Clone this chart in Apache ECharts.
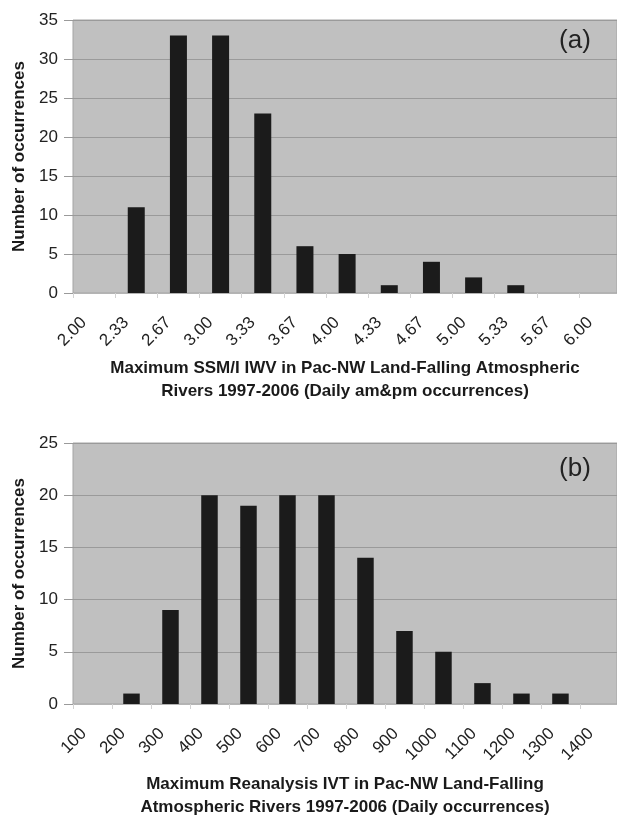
<!DOCTYPE html>
<html><head><meta charset="utf-8">
<script src="https://cdn.jsdelivr.net/npm/echarts@6/dist/echarts.min.js"></script>
<style>html,body{margin:0;padding:0;background:#fff}#c{width:617px;height:820px}</style>
</head><body><div id="c"></div>
<script>
// Panel (a): SSM/I IWV histogram
const ticksA = ['2.00','2.33','2.67','3.00','3.33','3.67','4.00','4.33','4.67','5.00','5.33','5.67','6.00'];
const countsA = [0, 11, 33, 33, 23, 6, 5, 1, 4, 2, 1, 0];
const yMaxA = 35;
const titleA = 'Maximum SSM/I IWV in Pac-NW Land-Falling Atmospheric\nRivers 1997-2006 (Daily am&pm occurrences)';

// Panel (b): Reanalysis IVT histogram
const ticksB = ['100','200','300','400','500','600','700','800','900','1000','1100','1200','1300','1400'];
const countsB = [0, 1, 9, 20, 19, 20, 20, 14, 7, 5, 2, 1, 1];
const yMaxB = 25;
const titleB = 'Maximum Reanalysis IVT in Pac-NW Land-Falling\nAtmospheric Rivers 1997-2006 (Daily occurrences)';

const yTitle = 'Number of occurrences';
const FONT = 'Liberation Sans, Arial, Helvetica, sans-serif';

function xAxisFor(gridIndex, ticks, max, shift, title, gap) {
  return {
    gridIndex, type: 'value', min: 0, max,
    axisLine: {show: true, lineStyle: {color: '#b4b4b4', width: 1}},
    axisTick: {show: true, customValues: ticks.map((_, i) => i), length: 5, inside: false,
               lineStyle: {color: '#d2d2d2'}},
    axisLabel: {customValues: ticks.map((_, i) => i + shift), rotate: 45, margin: 27,
                formatter: v => ticks[Math.round(v - shift)], fontSize: 17, color: '#222', fontFamily: FONT},
    splitLine: {show: false},
    name: title, nameLocation: 'middle', nameGap: gap,
    nameTextStyle: {fontWeight: 'bold', fontSize: 17, lineHeight: 23, color: '#1a1a1a', fontFamily: FONT}
  };
}
function yAxisFor(gridIndex, ymax) {
  return {
    gridIndex, type: 'value', min: 0, max: ymax, interval: 5,
    axisLine: {show: false},
    axisTick: {show: true, length: 9, lineStyle: {color: '#9a9a9a'}},
    axisLabel: {fontSize: 17, color: '#222', margin: 15, fontFamily: FONT},
    splitLine: {show: true, lineStyle: {color: '#9a9a9a', width: 1}},
    name: yTitle, nameLocation: 'middle', nameGap: 44,
    nameTextStyle: {fontWeight: 'bold', fontSize: 17, color: '#1a1a1a', fontFamily: FONT}
  };
}

const chart = echarts.init(document.getElementById('c'), null, {renderer: 'canvas'});
chart.setOption({
  animation: false,
  backgroundColor: '#ffffff',
  grid: [
    {left: 73, top: 20, width: 544, height: 273, show: true, backgroundColor: '#c0c0c0', borderColor: '#a4a4a4', borderWidth: 1},
    {left: 73, top: 443, width: 544, height: 266, show: true, backgroundColor: '#c0c0c0', borderColor: '#a4a4a4', borderWidth: 1}
  ],
  xAxis: [
    xAxisFor(0, ticksA, 12.9, 0.26, titleA, 64),
    xAxisFor(1, ticksB, 13.95, 0.28, titleB, 69)
  ],
  yAxis: [yAxisFor(0, yMaxA), yAxisFor(1, yMaxB)],
  series: [
    {type: 'bar', xAxisIndex: 0, yAxisIndex: 0, barWidth: 17,
     itemStyle: {color: '#1b1b1b'}, data: countsA.map((v, i) => [i + 0.5, v])},
    {type: 'bar', xAxisIndex: 1, yAxisIndex: 1, barWidth: 16.5,
     itemStyle: {color: '#1b1b1b'}, data: countsB.map((v, i) => [i + 0.5, v])}
  ],
  graphic: [
    {type: 'text', x: 575, y: 41, style: {text: '(a)', font: '26px ' + FONT, fill: '#222', textAlign: 'center', textVerticalAlign: 'middle'}},
    {type: 'text', x: 575, y: 469, style: {text: '(b)', font: '26px ' + FONT, fill: '#222', textAlign: 'center', textVerticalAlign: 'middle'}}
  ]
});
</script>
</body></html>
